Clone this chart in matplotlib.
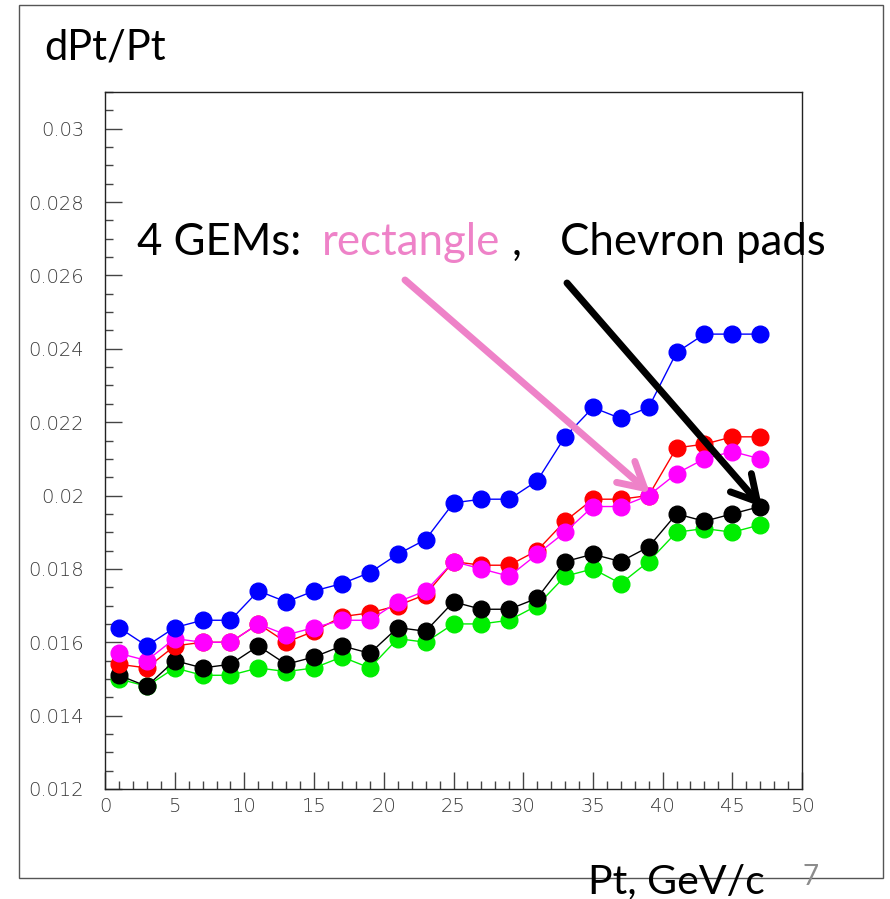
import matplotlib
matplotlib.use("Agg")
import matplotlib.pyplot as plt
from matplotlib.patches import Rectangle
from matplotlib.ticker import MultipleLocator, FixedLocator, FuncFormatter

# ---- data ----
pt = [1, 3, 5, 7, 9, 11, 13, 15, 17, 19, 21, 23, 25, 27, 29, 31, 33, 35, 37, 39, 41, 43, 45, 47]
blue = [0.0164, 0.0159, 0.0164, 0.0166, 0.0166, 0.0174, 0.0171, 0.0174, 0.0176, 0.0179, 0.0184, 0.0188,
        0.0198, 0.0199, 0.0199, 0.0204, 0.0216, 0.0224, 0.0221, 0.0224, 0.0239, 0.0244, 0.0244, 0.0244]
red = [0.0154, 0.0153, 0.0159, 0.0160, 0.0160, 0.0165, 0.0160, 0.0163, 0.0167, 0.0168, 0.0170, 0.0173,
       0.0182, 0.0181, 0.0181, 0.0185, 0.0193, 0.0199, 0.0199, 0.0200, 0.0213, 0.0214, 0.0216, 0.0216]
magenta = [0.0157, 0.0155, 0.0161, 0.0160, 0.0160, 0.0165, 0.0162, 0.0164, 0.0166, 0.0166, 0.0171, 0.0174,
           0.0182, 0.0180, 0.0178, 0.0184, 0.0190, 0.0197, 0.0197, 0.0200, 0.0206, 0.0210, 0.0212, 0.0210]
black = [0.0151, 0.0148, 0.0155, 0.0153, 0.0154, 0.0159, 0.0154, 0.0156, 0.0159, 0.0157, 0.0164, 0.0163,
         0.0171, 0.0169, 0.0169, 0.0172, 0.0182, 0.0184, 0.0182, 0.0186, 0.0195, 0.0193, 0.0195, 0.0197]
green = [0.0150, 0.0148, 0.0153, 0.0151, 0.0151, 0.0153, 0.0152, 0.0153, 0.0156, 0.0153, 0.0161, 0.0160,
         0.0165, 0.0165, 0.0166, 0.0170, 0.0178, 0.0180, 0.0176, 0.0182, 0.0190, 0.0191, 0.0190, 0.0192]
y_major = [0.012, 0.014, 0.016, 0.018, 0.020, 0.022, 0.024, 0.026, 0.028, 0.030]

series = [
    (green, "#00ee00", 2),
    (black, "#000000", 3),
    (red, "#ff0000", 4),
    (magenta, "#ff00ff", 5),
    (blue, "#0000ff", 6),
]

W, H = 890, 899
fig = plt.figure(figsize=(W / 100, H / 100), dpi=100)
fig.patch.set_facecolor("white")

def fx(px):
    return px / W

def fy(py):
    return 1 - py / H

# outer slide frame
fig.patches.append(Rectangle((fx(19), fy(878)), fx(883) - fx(19), fy(5) - fy(878),
                             transform=fig.transFigure, fill=False, ec="#555555", lw=1.0, zorder=0))

ax = fig.add_axes([fx(105), fy(789), fx(802) - fx(105), fy(92) - fy(789)])
for ys, c, z in series:
    ax.plot(pt, ys, "-", color=c, lw=1.0, marker="o", markersize=12,
            markerfacecolor=c, markeredgecolor=c, zorder=z)

ax.set_xlim(0, 50)
ax.set_ylim(0.012, 0.031)
ax.xaxis.set_major_locator(MultipleLocator(5))
ax.xaxis.set_minor_locator(MultipleLocator(1))
ax.yaxis.set_major_locator(FixedLocator(y_major))
ax.yaxis.set_minor_locator(MultipleLocator(0.0005))
ax.xaxis.set_major_formatter(FuncFormatter(lambda v, p: "%d" % round(v)))
ax.yaxis.set_major_formatter(FuncFormatter(lambda v, p: ("%.3f" % v).rstrip("0")))
ax.tick_params(axis="both", which="both", direction="in", top=False, right=False,
               labelsize=14, labelcolor="#3a3a3a", color="#444444", width=1.0)
ax.tick_params(axis="both", which="major", length=12)
ax.tick_params(axis="both", which="minor", length=6)
ax.tick_params(axis="y", which="major", pad=15)
ax.tick_params(axis="x", which="major", pad=6)
for lab in ax.get_xticklabels() + ax.get_yticklabels():
    lab.set_fontfamily("DejaVu Sans")
    lab.set_fontweight("light")
for s in ax.spines.values():
    s.set_color("#222222")
    s.set_linewidth(1.0)

FONT = "Lato"
pink = "#ee82c8"

fig.text(fx(44), fy(60), "dPt/Pt", fontsize=30, family=FONT, color="black", va="baseline", ha="left")
fig.text(fx(588), fy(893), "Pt, GeV/c", fontsize=29.5, family=FONT, color="black", va="baseline", ha="left")
fig.text(fx(803), fy(885), "7", fontsize=20, family=FONT, color="#8c8c8c", va="baseline", ha="left")

TS = 31.5
fig.text(fx(137), fy(255), "4 GEMs:", fontsize=TS, family=FONT, color="black", va="baseline", ha="left", zorder=10)
fig.text(fx(322), fy(255), "rectangle", fontsize=TS, family=FONT, color=pink, va="baseline", ha="left", zorder=10)
fig.text(fx(512), fy(255), ",", fontsize=TS, family=FONT, color="black", va="baseline", ha="left", zorder=10)
fig.text(fx(560), fy(255), "Chevron pads", fontsize=TS, family=FONT, color="black", va="baseline", ha="left", zorder=10)

# arrows
ax.annotate("", xy=(fx(650), fy(493)), xytext=(fx(405), fy(280)),
            xycoords="figure fraction", textcoords="figure fraction",
            arrowprops=dict(arrowstyle="->,head_length=0.9,head_width=0.5", color=pink, lw=5,
                            mutation_scale=20, shrinkA=0, shrinkB=0), zorder=8)
ax.annotate("", xy=(fx(762), fy(507)), xytext=(fx(567), fy(283)),
            xycoords="figure fraction", textcoords="figure fraction",
            arrowprops=dict(arrowstyle="->,head_length=0.9,head_width=0.5", color="black", lw=5,
                            mutation_scale=20, shrinkA=0, shrinkB=0), zorder=8)

fig.savefig("out.png", dpi=100)
